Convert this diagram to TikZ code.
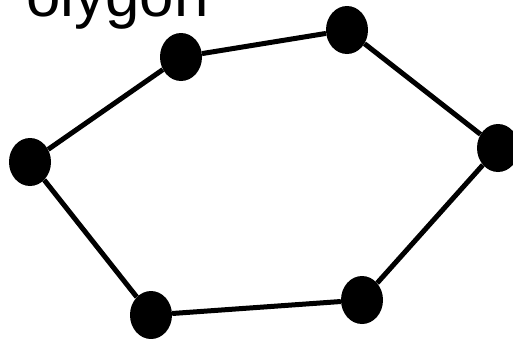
\documentclass[tikz,border=0pt]{standalone}
\usepackage{fontspec}
\setmainfont{Liberation Sans}
\usetikzlibrary{shapes.geometric}
\begin{document}
\begin{tikzpicture}[x=1pt, y=-1pt, every node/.style={ellipse, fill=black, inner sep=0pt, minimum width=42pt, minimum height=48pt}]
\useasboundingbox (0,0) rectangle (513,338);

% Title
\node[draw=none, fill=none, rectangle, minimum width=0pt, minimum height=0pt, anchor=base west, font=\fontsize{61.8}{70}\selectfont] (title) at (-15,16) {Polygon};

% Nodes
\node (L) at (30,162) {};
\node (T1) at (181,57) {};
\node (T2) at (347,30) {};
\node (R) at (498,148) {};
\node (B2) at (362,300) {};
\node (B1) at (151,315) {};

% Edges
\draw[line width=5pt] (L) -- (T1);
\draw[line width=5pt] (T1) -- (T2);
\draw[line width=5pt] (T2) -- (R);
\draw[line width=5pt] (R) -- (B2);
\draw[line width=5pt] (B2) -- (B1);
\draw[line width=5pt] (B1) -- (L);

\end{tikzpicture}
\end{document}
